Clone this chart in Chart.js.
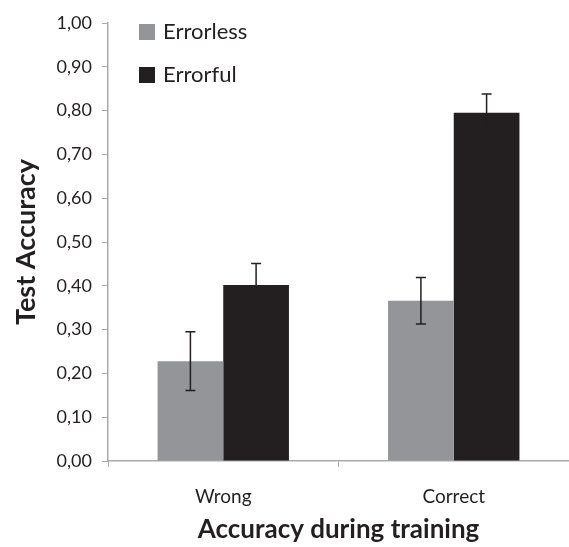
<!DOCTYPE html>
<html>
<head>
<meta charset="utf-8">
<script src="https://cdn.jsdelivr.net/npm/chart.js@4/dist/chart.umd.min.js"></script>
<style>
  html, body { margin: 0; padding: 0; background: #fff; }
  #wrap { width: 569px; height: 547px; }
</style>
</head>
<body>
<div id="wrap"><canvas id="chart" width="569" height="547"></canvas></div>
<script>
// 数据
const categories = ['Wrong', 'Correct'];
const errorlessValues = [0.228, 0.366];
const errorfulValues = [0.402, 0.795];
const errorlessErr = [0.067, 0.053];
const errorfulErr = [0.049, 0.043];

const GREY = '#939598';
const DARK = '#231f20';
const AXIS = '#a7a9ac';
const FONT = 'Lato, "Open Sans", sans-serif';

// 误差线插件
const errorBars = {
  id: 'errorBars',
  afterDatasetsDraw(chart) {
    const ctx = chart.ctx;
    const y = chart.scales.y;
    const errs = [errorlessErr, errorfulErr];
    ctx.save();
    ctx.strokeStyle = DARK;
    ctx.lineWidth = 1.5;
    chart.data.datasets.forEach((ds, i) => {
      chart.getDatasetMeta(i).data.forEach((bar, j) => {
        const v = ds.data[j];
        const top = y.getPixelForValue(v + errs[i][j]);
        const bot = y.getPixelForValue(v - errs[i][j]);
        ctx.beginPath();
        ctx.moveTo(bar.x, top); ctx.lineTo(bar.x, bot);
        ctx.moveTo(bar.x - 5, top); ctx.lineTo(bar.x + 5, top);
        ctx.moveTo(bar.x - 5, bot); ctx.lineTo(bar.x + 5, bot);
        ctx.stroke();
      });
    });
    ctx.restore();
  }
};

// 图内图例
const innerLegend = {
  id: 'innerLegend',
  afterDraw(chart) {
    const ctx = chart.ctx;
    ctx.save();
    ctx.font = '22px ' + FONT;
    ctx.textBaseline = 'middle';
    chart.data.datasets.forEach((ds, i) => {
      const yy = 24 + i * 43;
      ctx.fillStyle = ds.backgroundColor;
      ctx.fillRect(139, yy, 16, 16);
      ctx.fillStyle = DARK;
      ctx.fillText(ds.label, 163, yy + 8);
    });
    ctx.restore();
  }
};

new Chart(document.getElementById('chart'), {
  type: 'bar',
  data: {
    labels: categories,
    datasets: [
      { label: 'Errorless', data: errorlessValues, backgroundColor: GREY },
      { label: 'Errorful', data: errorfulValues, backgroundColor: DARK }
    ]
  },
  options: {
    responsive: false,
    animation: false,
    layout: { padding: { top: 23, right: 0, left: 0, bottom: 0 } },
    datasets: { bar: { categoryPercentage: 0.57, barPercentage: 1.0 } },
    plugins: {
      legend: { display: false },
      tooltip: { enabled: false }
    },
    scales: {
      x: {
        offset: true,
        grid: { offset: true, drawOnChartArea: false, tickLength: 6, color: AXIS, tickColor: AXIS },
        border: { color: AXIS, width: 1.5 },
        ticks: { color: DARK, padding: 18, font: { family: FONT, size: 19 } },
        title: {
          display: true, text: 'Accuracy during training', color: DARK,
          font: { family: FONT, size: 26, weight: 'bold' }, padding: { top: 0, bottom: 2 }
        },
        afterFit(s) { s.height = 86; }
      },
      y: {
        min: 0, max: 1,
        ticks: {
          stepSize: 0.1, color: DARK, padding: 10,
          font: { family: FONT, size: 18 },
          callback: v => v.toFixed(2).replace('.', ',')
        },
        grid: { drawOnChartArea: false, tickLength: 6, color: AXIS, tickColor: AXIS },
        border: { color: AXIS, width: 1.5 },
        title: {
          display: true, text: 'Test Accuracy', color: DARK,
          font: { family: FONT, size: 27, weight: 'bold' }, padding: { top: 10 }
        },
        afterFit(s) { s.width = 108; }
      }
    }
  },
  plugins: [errorBars, innerLegend]
});
</script>
</body>
</html>
